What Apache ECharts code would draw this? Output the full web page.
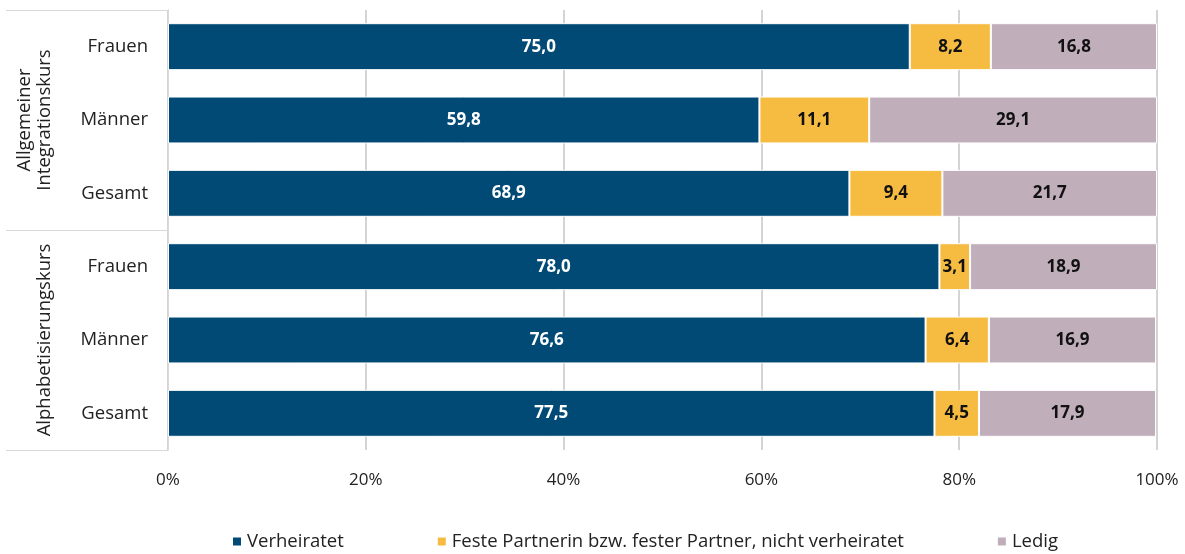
<!DOCTYPE html>
<html>
<head>
<meta charset="utf-8">
<script src="https://cdn.jsdelivr.net/npm/echarts@6/dist/echarts.min.js"></script>
<style>
  html, body { margin: 0; padding: 0; background: #fff; }
  #chart { width: 1185px; height: 554px; }
</style>
</head>
<body>
<div id="chart"></div>
<script>
const categories = ['Frauen', 'Männer', 'Gesamt', 'Frauen', 'Männer', 'Gesamt'];
const groups = ['Allgemeiner\nIntegrationskurs', 'Alphabetisierungskurs'];
const verheiratet = [75.0, 59.8, 68.9, 78.0, 76.6, 77.5];
const festePartner = [8.2, 11.1, 9.4, 3.1, 6.4, 4.5];
const ledig = [16.8, 29.1, 21.7, 18.9, 16.9, 17.9];
const xTicks = [0, 20, 40, 60, 80, 100];

const FONT = '"Open Sans", "Noto Sans", sans-serif';
const fmt = v => v.toFixed(1).replace('.', ',');

const chart = echarts.init(document.getElementById('chart'));

const seriesDef = [
  { name: 'Verheiratet', data: verheiratet, color: '#004a75', text: '#ffffff' },
  { name: 'Feste Partnerin bzw. fester Partner, nicht verheiratet', data: festePartner, color: '#f6bc42', text: '#111111' },
  { name: 'Ledig', data: ledig, color: '#c0aebb', text: '#111111' }
];

chart.setOption({
  animation: false,
  textStyle: { fontFamily: FONT },
  grid: { left: 168, right: 28, top: 10, bottom: 104 },
  legend: {
    top: 527,
    left: 226,
    itemWidth: 10,
    itemHeight: 10,
    itemGap: 92,
    icon: 'rect',
    textStyle: { fontSize: 18.5, color: '#222', fontFamily: FONT }
  },
  xAxis: {
    type: 'value',
    min: 0,
    max: 100,
    interval: 20,
    axisLine: { show: false },
    axisTick: { show: false },
    axisLabel: {
      margin: 22,
      fontSize: 17,
      color: '#222',
      formatter: v => xTicks.includes(v) ? v + '%' : ''
    },
    splitLine: { lineStyle: { color: '#d4d4d4', width: 2 } }
  },
  yAxis: [
    {
      type: 'category',
      data: categories,
      inverse: true,
      axisLine: { show: true, lineStyle: { color: '#d9d9d9', width: 1 } },
      axisTick: { show: false },
      axisLabel: { margin: 20, fontSize: 18.5, color: '#222' }
    },
    {
      type: 'category',
      data: groups,
      inverse: true,
      position: 'left',
      offset: 0,
      axisLine: { show: true, lineStyle: { color: '#d9d9d9', width: 1 } },
      axisTick: { show: true, interval: 0, length: 162, lineStyle: { color: '#d9d9d9', width: 1 } },
      axisLabel: {
        interval: 0, hideOverlap: false, rotate: 90, margin: 113,
        fontSize: 18.5, color: '#222', lineHeight: 20
      }
    }
  ],
  series: seriesDef.map(s => ({
    name: s.name,
    type: 'bar',
    stack: 'total',
    yAxisIndex: 0,
    barWidth: '64%',
    data: s.data,
    itemStyle: { color: s.color, borderColor: '#ffffff', borderWidth: 1 },
    label: {
      show: true,
      position: 'inside',
      color: s.text,
      fontWeight: 'bold',
      fontSize: 17,
      fontFamily: FONT,
      formatter: p => fmt(p.value)
    }
  }))
});
</script>
</body>
</html>
